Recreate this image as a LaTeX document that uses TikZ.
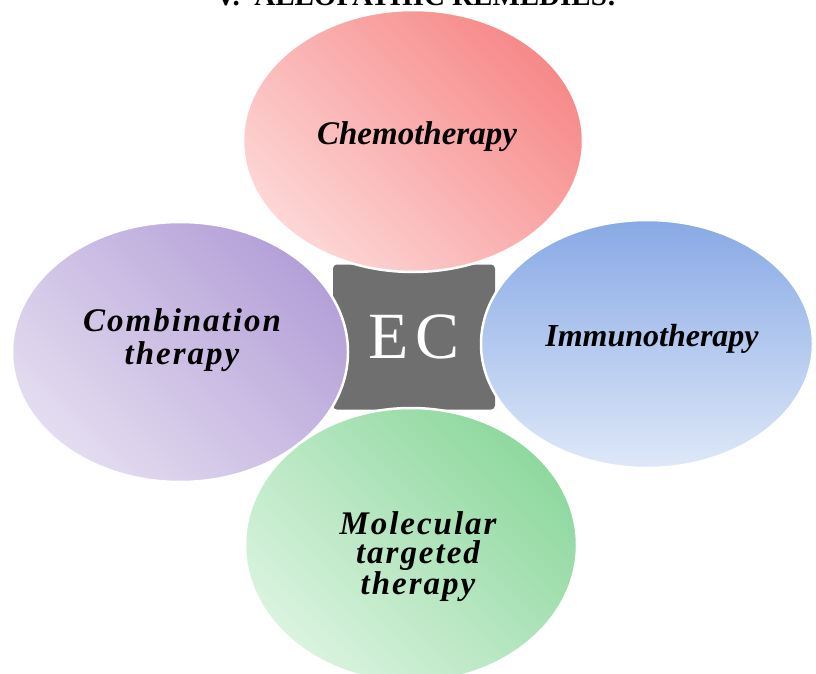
\documentclass[tikz,border=0pt]{standalone}
\usepackage{fontspec}
\setmainfont{Liberation Serif}
\newfontfamily\spreadfont{Liberation Serif}[LetterSpace=6]
\usetikzlibrary{shapes.geometric}

\definecolor{ecgray}{RGB}{111,111,111}
\definecolor{chemodark}{RGB}{247,137,137}
\definecolor{chemolight}{RGB}{253,214,214}
\definecolor{combdark}{RGB}{180,160,216}
\definecolor{comblight}{RGB}{228,221,240}
\definecolor{immdark}{RGB}{136,169,229}
\definecolor{immlight}{RGB}{222,232,248}
\definecolor{moldark}{RGB}{142,216,158}
\definecolor{mollight}{RGB}{218,243,223}

\begin{document}
\begin{tikzpicture}
  [x=1pt,y=-1pt,
   bubble/.style={ellipse,draw=white,line width=2.5pt,inner sep=0pt,shading=axis,shading angle=-45},
   lbl/.style={align=center,font=\fontsize{33}{29}\selectfont\bfseries\itshape},
   wide/.style={align=center,font=\spreadfont\fontsize{33}{29}\selectfont\bfseries\itshape}]
  \useasboundingbox (0,0) rectangle (816,674);

  % heading, cut off by the top edge
  \node[anchor=base,font=\fontsize{29}{30}\selectfont\bfseries] (title) at (416,6) {V.\ \ ALLOPATHIC REMEDIES:};

  % centre block
  \node[fill=ecgray,rounded corners=4pt,minimum width=162pt,minimum height=145pt,
        text=white,font=\fontsize{66}{66}\selectfont] (ec) at (414,337) {E\kern6pt C};

  % the four bubbles
  \node[bubble,top color=chemodark,bottom color=chemolight,shading angle=-45,
        minimum width=340pt,minimum height=262pt] (chemo) at (413,141) {};
  \node[bubble,top color=combdark,bottom color=comblight,shading angle=-45,
        minimum width=336pt,minimum height=260pt] (comb) at (180,352) {};
  \node[bubble,top color=immdark,bottom color=immlight,
        minimum width=332pt,minimum height=248pt] (imm) at (647,344) {};
  \node[bubble,top color=moldark,bottom color=mollight,shading angle=-45,
        minimum width=332pt,minimum height=274pt] (mol) at (411,545) {};

  \node[lbl] (chemot) at (417,137) {Chemotherapy};
  \node[wide] (combt) at (182,340) {Combination\\[4pt]therapy};
  \node[lbl,font=\fontsize{32}{29}\selectfont\bfseries\itshape] (immt) at (652,339) {Immunotherapy};
  \node[wide] (molt) at (418,557) {Molecular\\targeted\\therapy};
\end{tikzpicture}
\end{document}
